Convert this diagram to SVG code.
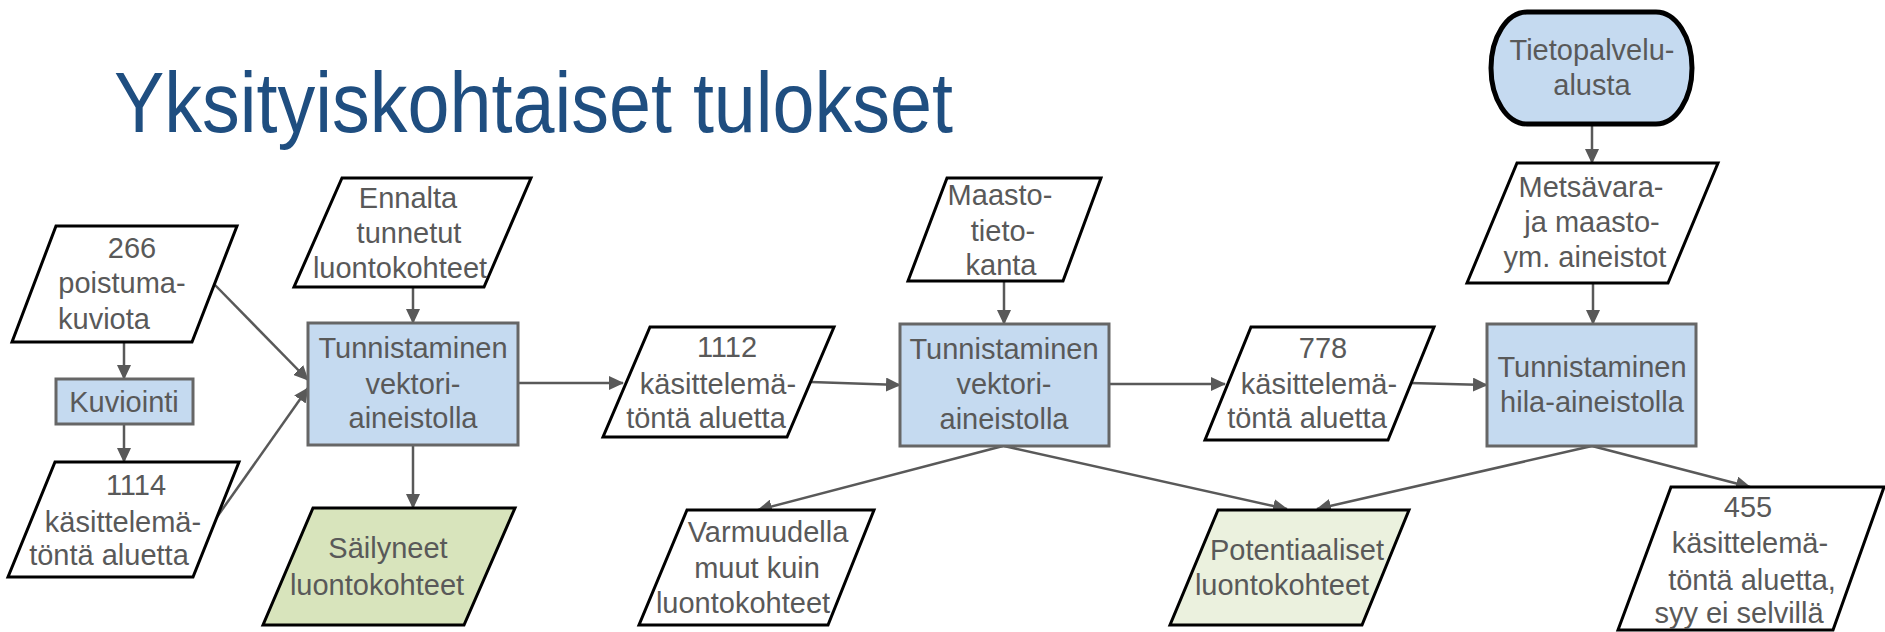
<svg xmlns="http://www.w3.org/2000/svg" width="1885" height="632" viewBox="0 0 1885 632">
<style>
.t{font-family:"Liberation Sans",Arial,sans-serif;font-size:29px;fill:#595959;text-anchor:middle}
.title{font-family:"Liberation Sans",Arial,sans-serif;font-size:86px;fill:#1F4E80}
.para{fill:#ffffff;stroke:#000000;stroke-width:3;stroke-linejoin:miter}
.box{fill:#C5DAF0;stroke:#666666;stroke-width:3}
.green{fill:#D8E4BC}
.lgreen{fill:#EBF1DE}
.term{fill:#C5DAF0;stroke:#000000;stroke-width:5}
.c{fill:none;stroke:#595959;stroke-width:2.5;marker-end:url(#ah)}
</style>
<defs>
<marker id="ah" markerUnits="userSpaceOnUse" markerWidth="15" markerHeight="14" viewBox="0 0 15 14" refX="14" refY="7" orient="auto">
<path d="M0,0 L15,7 L0,14 Z" fill="#595959"/>
</marker>
</defs>
<rect width="1885" height="632" fill="#ffffff"/>
<text class="title" x="114" y="132" textLength="839" lengthAdjust="spacingAndGlyphs">Yksityiskohtaiset tulokset</text>

<g id="connectors">
<line class="c" x1="124" y1="342" x2="124" y2="379"/>
<line class="c" x1="124" y1="424" x2="124" y2="462"/>
<line class="c" x1="215" y1="285" x2="308" y2="380"/>
<line class="c" x1="217" y1="517" x2="308" y2="388"/>
<line class="c" x1="413" y1="287" x2="413" y2="323"/>
<line class="c" x1="413" y1="445" x2="413" y2="508"/>
<line class="c" x1="518" y1="383" x2="623" y2="383"/>
<line class="c" x1="811" y1="382" x2="900" y2="385"/>
<line class="c" x1="1004" y1="281" x2="1004" y2="324"/>
<line class="c" x1="1003" y1="446" x2="758" y2="510"/>
<line class="c" x1="1004" y1="446" x2="1287" y2="509"/>
<line class="c" x1="1109" y1="384" x2="1225" y2="384"/>
<line class="c" x1="1410" y1="383" x2="1487" y2="385"/>
<line class="c" x1="1593" y1="283" x2="1593" y2="324"/>
<line class="c" x1="1592" y1="124" x2="1592" y2="163"/>
<line class="c" x1="1592" y1="446" x2="1317" y2="509"/>
<line class="c" x1="1592" y1="446" x2="1750" y2="487"/>
</g>

<g id="n266">
<polygon class="para" points="56,226 237,226 192,342 12,342"/>
<text class="t" x="132" y="258">266</text>
<text class="t" x="122" y="293">poistuma-</text>
<text class="t" x="104" y="329">kuviota</text>
</g>

<g id="kuviointi">
<rect class="box" x="56" y="379" width="137" height="45"/>
<text class="t" x="124" y="412">Kuviointi</text>
</g>

<g id="n1114">
<polygon class="para" points="55,462 239,462 193,577 8,577"/>
<text class="t" x="136" y="495">1114</text>
<text class="t" x="123" y="532">käsittelemä-</text>
<text class="t" x="109" y="565">töntä aluetta</text>
</g>

<g id="ennalta">
<polygon class="para" points="342,178 531,178 484,287 294,287"/>
<text class="t" x="408" y="208">Ennalta</text>
<text class="t" x="409" y="243">tunnetut</text>
<text class="t" x="400" y="278">luontokohteet</text>
</g>

<g id="vektori1">
<rect class="box" x="308" y="323" width="210" height="122"/>
<text class="t" x="413" y="358">Tunnistaminen</text>
<text class="t" x="413" y="394">vektori-</text>
<text class="t" x="413" y="428">aineistolla</text>
</g>

<g id="sailyneet">
<polygon class="para green" points="313,508 515,508 464,625 263,625"/>
<text class="t" x="388" y="558">Säilyneet</text>
<text class="t" x="377" y="595">luontokohteet</text>
</g>

<g id="n1112">
<polygon class="para" points="650,327 834,327 787,437 603,437"/>
<text class="t" x="727" y="357">1112</text>
<text class="t" x="718" y="394">käsittelemä-</text>
<text class="t" x="706" y="428">töntä aluetta</text>
</g>

<g id="maasto">
<polygon class="para" points="947,178 1101,178 1063,281 908,281"/>
<text class="t" x="1000" y="205">Maasto-</text>
<text class="t" x="1003" y="241">tieto-</text>
<text class="t" x="1001" y="275">kanta</text>
</g>

<g id="vektori2">
<rect class="box" x="900" y="324" width="209" height="122"/>
<text class="t" x="1004" y="359">Tunnistaminen</text>
<text class="t" x="1004" y="394">vektori-</text>
<text class="t" x="1004" y="429">aineistolla</text>
</g>

<g id="varmuudella">
<polygon class="para" points="687,510 874,510 828,625 639,625"/>
<text class="t" x="768" y="542">Varmuudella</text>
<text class="t" x="757" y="578">muut kuin</text>
<text class="t" x="743" y="613">luontokohteet</text>
</g>

<g id="n778">
<polygon class="para" points="1251,327 1434,327 1388,440 1205,440"/>
<text class="t" x="1323" y="358">778</text>
<text class="t" x="1319" y="394">käsittelemä-</text>
<text class="t" x="1307" y="428">töntä aluetta</text>
</g>

<g id="hila">
<rect class="box" x="1487" y="324" width="209" height="122"/>
<text class="t" x="1592" y="377">Tunnistaminen</text>
<text class="t" x="1592" y="412">hila-aineistolla</text>
</g>

<g id="metsavara">
<polygon class="para" points="1517,163 1718,163 1668,283 1467,283"/>
<text class="t" x="1591" y="197">Metsävara-</text>
<text class="t" x="1592" y="232">ja maasto-</text>
<text class="t" x="1585" y="267">ym. aineistot</text>
</g>

<g id="tietopalvelu">
<path class="term" d="M1527,12 H1656 A36,56 0 0 1 1656,124 H1527 A36,56 0 0 1 1527,12 Z"/>
<text class="t" x="1592" y="60">Tietopalvelu-</text>
<text class="t" x="1592" y="95">alusta</text>
</g>

<g id="potentiaaliset">
<polygon class="para lgreen" points="1218,510 1409,510 1362,625 1170,625"/>
<text class="t" x="1297" y="560">Potentiaaliset</text>
<text class="t" x="1282" y="595">luontokohteet</text>
</g>

<g id="n455">
<polygon class="para" points="1671,487 1884,487 1833,630 1618,630"/>
<text class="t" x="1748" y="517">455</text>
<text class="t" x="1750" y="553">käsittelemä-</text>
<text class="t" x="1752" y="590">töntä aluetta,</text>
<text class="t" x="1739" y="623">syy ei selvillä</text>
</g>
</svg>
